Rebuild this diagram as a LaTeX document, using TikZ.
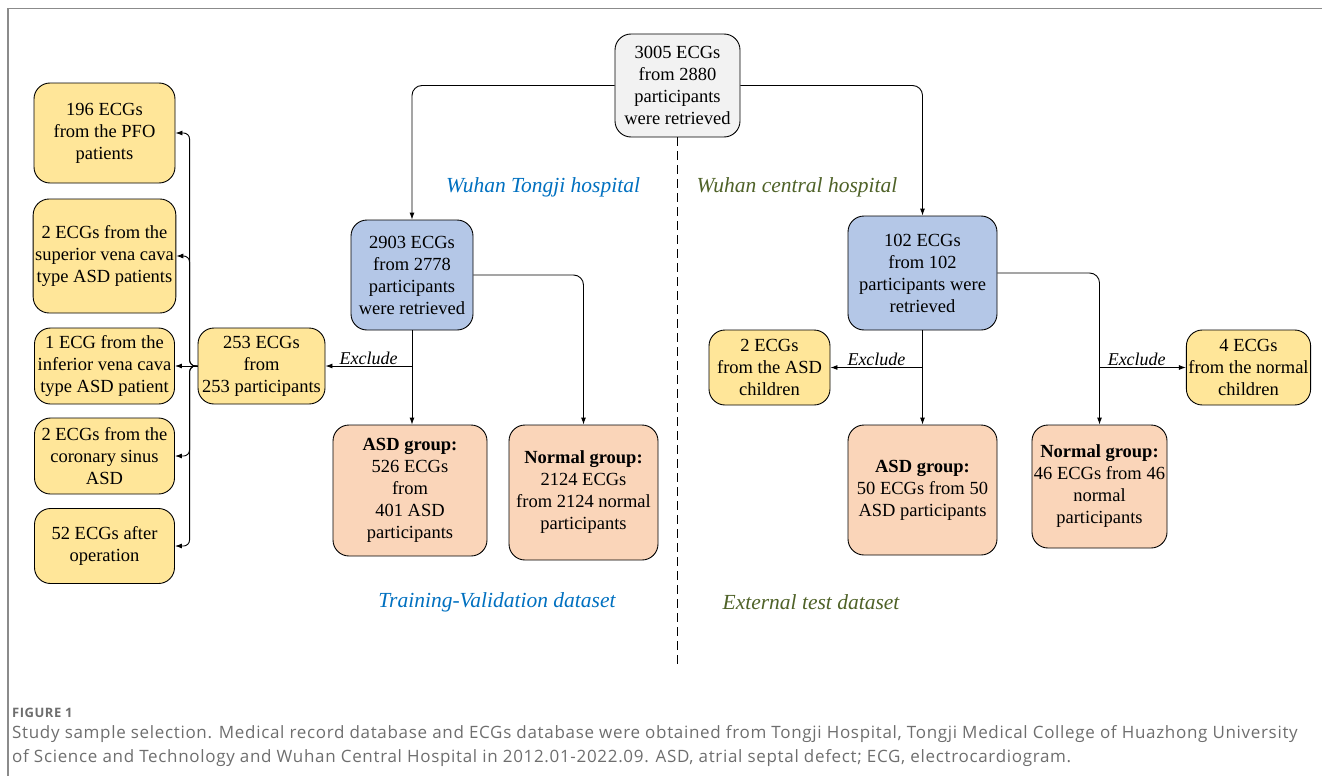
\documentclass[tikz,border=0pt]{standalone}
\usepackage{fontspec}
\setmainfont{Liberation Serif}
\newfontfamily\capfont[LetterSpace=4]{Open Sans}
\usepackage{tikz}
\usetikzlibrary{arrows.meta}
\usepackage{xcolor}
\definecolor{boxgray}{HTML}{F2F2F2}
\definecolor{boxblue}{HTML}{B4C7E7}
\definecolor{boxyellow}{HTML}{FFE699}
\definecolor{boxpeach}{HTML}{FAD5B9}
\definecolor{tjblue}{HTML}{0070C0}
\definecolor{wcgreen}{HTML}{4F6228}
\definecolor{capgray}{HTML}{6E6E6E}

\begin{document}
\begin{tikzpicture}[x=1pt,y=-1pt,
  box/.style={draw=black, line width=0.9pt, rounded corners=16pt, align=center,
    inner sep=2pt, font=\fontsize{18.5}{22}\selectfont},
  arr/.style={line width=0.9pt, -{Latex[length=7pt,width=5pt]}},
  hosp/.style={font=\fontsize{21.5}{24}\selectfont\itshape},
  excl/.style={above, inner sep=1pt, font=\fontsize{18}{20}\selectfont\itshape}]
  \useasboundingbox (0,0) rectangle (1322,776);
  \draw[capgray!80, line width=1.5pt] (8,776) -- (8,8.5) -- (1322,8.5);

  % source
  \node[box, fill=boxgray, minimum width=125pt, minimum height=103pt] (all) at (677.5,85.5)
    {3005 ECGs\\from 2880\\participants\\were retrieved};
  \node[box, fill=boxblue, minimum width=122pt, minimum height=110pt] (tj) at (412,275)
    {2903 ECGs\\from 2778\\participants\\were retrieved};
  \node[box, fill=boxblue, minimum width=149pt, minimum height=114pt] (wc) at (922.5,273)
    {102 ECGs\\from 102\\participants were\\retrieved};

  % excluded, Tongji
  \node[box, fill=boxyellow, minimum width=127pt, minimum height=76pt] (ex1) at (261.5,366)
    {253 ECGs\\from\\253 participants};
  \node[box, fill=boxyellow, minimum width=141pt, minimum height=100pt] (pfo) at (104.5,133)
    {196 ECGs\\from the PFO\\patients};
  \node[box, fill=boxyellow, minimum width=140pt, minimum height=114pt] (svc) at (104.5,256)
    {2 ECGs from the\\superior vena cava\\type ASD patients};
  \node[box, fill=boxyellow, minimum width=140pt, minimum height=76pt] (ivc) at (104.5,366)
    {1 ECG from the\\inferior vena cava\\type ASD patient};
  \node[box, fill=boxyellow, minimum width=140pt, minimum height=76pt] (cs) at (104.5,456)
    {2 ECGs from the\\coronary sinus\\ASD};
  \node[box, fill=boxyellow, minimum width=140pt, minimum height=75pt] (op) at (104.5,546)
    {52 ECGs after\\operation};

  % groups
  \node[box, fill=boxpeach, minimum width=154pt, minimum height=131pt] (asd1) at (410,490.5)
    {\textbf{ASD group:}\\526 ECGs\\from\\401 ASD\\participants};
  \node[box, fill=boxpeach, minimum width=149pt, minimum height=135pt] (nor1) at (583.5,492.5)
    {\textbf{Normal group:}\\2124 ECGs\\from 2124 normal\\participants};
  \node[box, fill=boxpeach, minimum width=149pt, minimum height=130pt] (asd2) at (922.5,490)
    {\textbf{ASD group:}\\50 ECGs from 50\\ASD participants};
  \node[box, fill=boxpeach, minimum width=131pt, minimum height=123pt] (nor2) at (1099.5,486.5)
    {\textbf{Normal group:}\\46 ECGs from 46\\normal\\participants};

  % excluded, central
  \node[box, fill=boxyellow, minimum width=121pt, minimum height=75pt] (ex2) at (769.5,367.5)
    {2 ECGs\\from the ASD\\children};
  \node[box, fill=boxyellow, minimum width=121pt, minimum height=75pt] (ex3) at (1248.5,367.5)
    {4 ECGs\\from the normal\\children};

  % labels
  \node[hosp, text=tjblue] (tjlab) at (543,187) {Wuhan Tongji hospital};
  \node[hosp, text=wcgreen] (wclab) at (797,187) {Wuhan central hospital};
  \node[hosp, text=tjblue] (trainlab) at (497,602) {Training-Validation dataset};
  \node[hosp, text=wcgreen] (testlab) at (811,602) {External test dataset};

  % connectors
  \draw[arr, rounded corners=10pt] (all.west) -| (tj.north);
  \draw[arr, rounded corners=10pt] (all.east) -| (wc.north);
  \coordinate (split) at (677.5,668);
  \draw[line width=0.9pt, dash pattern=on 9pt off 5pt] (all.south) -- (split);

  \draw[arr] (tj.south) -- (tj.south |- asd1.north);
  \draw[arr] (tj.south |- ex1.east) -- (ex1.east) node[excl, midway] {Exclude};
  \draw[arr, rounded corners=10pt] (tj.east) -| (nor1.north);
  \draw[arr] (ex1.west) -- (ivc.east);
  \draw[arr, rounded corners=6pt] (ex1.west) -- ++(-8,0) |- (pfo.east);
  \draw[arr, rounded corners=6pt] (ex1.west) -- ++(-8,0) |- (svc.east);
  \draw[arr, rounded corners=6pt] (ex1.west) -- ++(-8,0) |- (cs.east);
  \draw[arr, rounded corners=6pt] (ex1.west) -- ++(-8,0) |- (op.east);

  \draw[arr] (wc.south) -- (wc.south |- asd2.north);
  \draw[arr] (wc.south |- ex2.east) -- (ex2.east) node[excl, midway] {Exclude};
  \draw[arr, rounded corners=10pt] (wc.east) -| (nor2.north);
  \draw[arr] (nor2.north |- ex3.west) -- (ex3.west) node[excl, midway, xshift=-6pt] {Exclude};

  % caption
  \node[anchor=base west, inner sep=0pt, text=capgray, font=\capfont\bfseries\fontsize{13}{14}\selectfont] (fig) at (12,717) {FIGURE 1};
  \node[anchor=base west, inner sep=0pt, align=left, text=capgray, font=\capfont\fontsize{17}{23.5}\selectfont] (cap) at (12,762)
    {Study sample selection. Medical record database and ECGs database were obtained from Tongji Hospital, Tongji Medical College of Huazhong University\\of Science and Technology and Wuhan Central Hospital in 2012.01-2022.09. ASD, atrial septal defect; ECG, electrocardiogram.};
\end{tikzpicture}
\end{document}
